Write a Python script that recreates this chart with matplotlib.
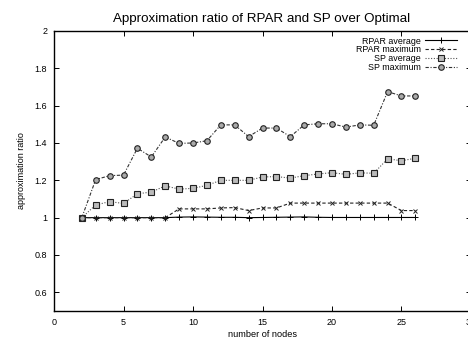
import matplotlib
matplotlib.use("Agg")
import matplotlib.pyplot as plt

plt.rcParams['font.family'] = ['Liberation Sans', 'DejaVu Sans']

nodes = list(range(2, 27))
rpar_avg = [1.0, 1.0, 1.0, 1.0, 1.0, 1.0, 1.0, 1.003, 1.004, 1.003, 1.002, 1.002, 1.0, 1.001, 1.002, 1.003, 1.004, 1.002, 1.001,
            1.001, 1.001, 1.001, 1.001, 1.001, 1.001]
rpar_max = [1.0, 1.0, 1.0, 1.0, 1.0, 1.0, 1.0, 1.047, 1.047, 1.047, 1.052, 1.054, 1.038, 1.052, 1.052, 1.078, 1.078, 1.078, 1.078,
            1.078, 1.078, 1.078, 1.078, 1.038, 1.038]
sp_avg = [1.0, 1.068, 1.086, 1.076, 1.128, 1.137, 1.17, 1.153, 1.157, 1.173, 1.2, 1.2, 1.2, 1.218, 1.22, 1.212, 1.225, 1.234,
          1.241, 1.232, 1.24, 1.238, 1.315, 1.305, 1.318]
sp_max = [1.0, 1.204, 1.225, 1.228, 1.372, 1.325, 1.432, 1.398, 1.4, 1.412, 1.497, 1.497, 1.434, 1.48, 1.48, 1.434, 1.497,
          1.503, 1.503, 1.485, 1.497, 1.495, 1.675, 1.652, 1.652]

labels = ["RPAR average", "RPAR maximum", "SP average", "SP maximum"]
title = "Approximation ratio of RPAR and SP over Optimal"
xticks = [0, 5, 10, 15, 20, 25, 30]
yticks = [0.6, 0.8, 1.0, 1.2, 1.4, 1.6, 1.8, 2.0]
ytick_labels = ["0.6", "0.8", "1", "1.2", "1.4", "1.6", "1.8", "2"]

fig = plt.figure(figsize=(4.68, 3.39), dpi=100)
ax = fig.add_axes([0.1154, 0.0826, 0.8910, 0.8260])

ax.plot(nodes, rpar_avg, color='black', lw=0.8, ls='-', marker='+', ms=3.8, mew=0.7, label=labels[0])
ax.plot(nodes, rpar_max, color='#222222', lw=0.8, ls=(0, (3, 2)), marker='x', ms=3.2, mew=0.7, label=labels[1])
ax.plot(nodes, sp_avg, color='#555555', lw=0.8, ls=(0, (1, 1.5)), marker='s', ms=3.8, mew=0.8,
        mfc='#bbbbbb', mec='#222222', label=labels[2])
ax.plot(nodes, sp_max, color='#333333', lw=0.8, ls=(0, (3, 1.5, 1, 1.5)), marker='o', ms=4.0, mew=0.8,
        mfc='#aaaaaa', mec='#222222', label=labels[3])

ax.set_xlim(0, 30)
ax.set_ylim(0.5, 2.0)
ax.set_xticks(xticks)
ax.set_yticks(yticks)
ax.set_yticklabels(ytick_labels)
ax.tick_params(direction='in', top=True, right=True, length=3.5, width=0.7, labelsize=6.5, pad=5)
for s in ax.spines.values():
    s.set_linewidth(1.0)

ax.set_title(title, fontsize=9.6, pad=6.5, x=0.497)
ax.set_xlabel("number of nodes", fontsize=6.6, labelpad=2)
ax.set_ylabel("approximation ratio", fontsize=6.5, labelpad=6)

leg = ax.legend(loc='upper right', bbox_to_anchor=(0.9664, 0.9800), frameon=False, fontsize=6.4,
                markerfirst=False, handlelength=3.6, handletextpad=0.5, labelspacing=-0.03,
                borderpad=0.0, borderaxespad=0.0)
for t in leg.get_texts():
    t.set_ha('right')
leg._legend_box.align = "right"

fig.savefig("out.png", dpi=100)
